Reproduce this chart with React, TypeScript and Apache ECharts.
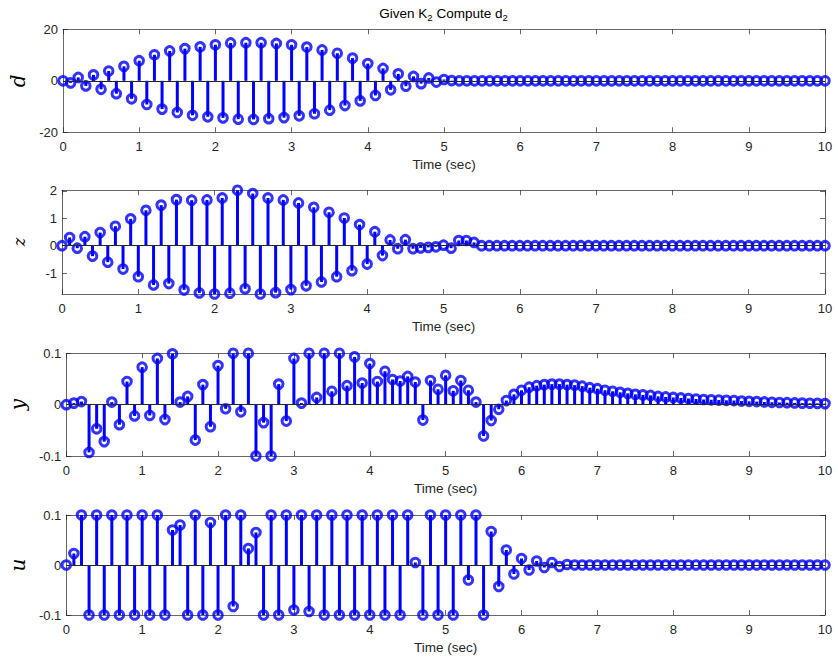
import React, { useEffect, useRef } from 'react';
import * as echarts from 'echarts';

// Time axis: 0 .. 10 s, sampled every 0.1 s
const time: number[] = Array.from({ length: 101 }, (_, i) => i / 10);

const dValues = [
  0, -0.8, 1.3, -2.0, 2.3, -3.3, 3.8, -5.0, 5.6, -7.0,
  7.8, -9.2, 10.1, -11.0, 11.6, -12.3, 12.5, -13.4, 13.2, -14.0,
  14.0, -14.4, 14.7, -14.9, 14.8, -15.0, 14.8, -14.7, 14.5, -14.3,
  14.0, -13.6, 13.1, -12.8, 12.0, -11.4, 10.7, -9.6, 8.8, -7.8,
  6.7, -5.7, 4.8, -3.5, 2.7, -2.1, 1.7, -1.1, 1.1, -0.5,
  0.5, 0.1, 0, 0, 0, 0, 0, 0, 0, 0,
  0, 0, 0, 0, 0, 0, 0, 0, 0, 0,
  0, 0, 0, 0, 0, 0, 0, 0, 0, 0,
  0, 0, 0, 0, 0, 0, 0, 0, 0, 0,
  0, 0, 0, 0, 0, 0, 0, 0, 0, 0,
  0,
];

const zValues = [
  0, 0.30, -0.09, 0.33, -0.38, 0.48, -0.60, 0.71, -0.85, 0.98,
  -1.13, 1.29, -1.43, 1.48, -1.38, 1.68, -1.61, 1.66, -1.72, 1.67,
  -1.76, 1.74, -1.73, 2.02, -1.57, 1.90, -1.76, 1.74, -1.71, 1.67,
  -1.60, 1.56, -1.46, 1.40, -1.32, 1.22, -1.13, 1.01, -0.91, 0.77,
  -0.67, 0.51, -0.36, 0.21, -0.11, 0.22, -0.11, -0.08, -0.06, -0.04,
  0.02, -0.09, 0.19, 0.19, 0.12, 0, 0, 0, 0, 0,
  0, 0, 0, 0, 0, 0, 0, 0, 0, 0,
  0, 0, 0, 0, 0, 0, 0, 0, 0, 0,
  0, 0, 0, 0, 0, 0, 0, 0, 0, 0,
  0, 0, 0, 0, 0, 0, 0, 0, 0, 0,
  0,
];

const yValues = [
  0, 0.003, 0.006, -0.093, -0.047, -0.072, 0.005, -0.039, 0.045, -0.022,
  0.073, -0.021, 0.090, -0.029, 0.099, 0.005, 0.016, -0.069, 0.039, -0.043,
  0.076, -0.008, 0.100, -0.014, 0.100, -0.100, -0.035, -0.100, 0.040, -0.032,
  0.090, 0.003, 0.100, 0.014, 0.100, 0.026, 0.100, 0.037, 0.093, 0.042,
  0.080, 0.045, 0.065, 0.049, 0.046, 0.055, 0.044, -0.030, 0.047, 0.030,
  0.057, 0.027, 0.047, 0.028, 0.005, -0.061, -0.031, -0.009, 0.008, 0.020,
  0.028, 0.034, 0.037, 0.039, 0.040, 0.040, 0.039, 0.038, 0.036, 0.033,
  0.031, 0.028, 0.026, 0.024, 0.022, 0.020, 0.019, 0.018, 0.016, 0.015,
  0.014, 0.013, 0.012, 0.011, 0.010, 0.0095, 0.009, 0.0085, 0.008, 0.007,
  0.0065, 0.006, 0.0052, 0.0046, 0.0042, 0.0038, 0.0034, 0.003, 0.0027, 0.0025,
  0.002,
];

const uValues = [
  0, 0.023, 0.1, -0.1, 0.1, -0.1, 0.1, -0.1, 0.1, -0.1,
  0.1, -0.1, 0.1, -0.1, 0.070, 0.080, -0.1, 0.1, -0.1, 0.085,
  -0.1, 0.1, -0.083, 0.1, 0.033, 0.065, -0.1, 0.1, -0.1, 0.1,
  -0.090, 0.1, -0.093, 0.1, -0.1, 0.1, -0.1, 0.1, -0.1, 0.1,
  -0.1, 0.1, -0.1, 0.1, -0.1, 0.1, 0.005, -0.1, 0.1, -0.1,
  0.1, -0.1, 0.1, -0.030, 0.1, -0.1, 0.067, -0.043, 0.030, -0.018,
  0.013, -0.010, 0.008, -0.005, 0.005, -0.003, 0.001, 0, 0, 0,
  0, 0, 0, 0, 0, 0, 0, 0, 0, 0,
  0, 0, 0, 0, 0, 0, 0, 0, 0, 0,
  0, 0, 0, 0, 0, 0, 0, 0, 0, 0,
  0,
];

const dTicks = [-20, 0, 20];
const zTicks = [-1, 0, 1, 2];
const yTicks = [-0.1, 0, 0.1];
const uTicks = [-0.1, 0, 0.1];

const panels = [
  { label: 'd', values: dValues, ticks: dTicks, min: -20, max: 20, top: 29.3, height: 103, labelSize: 20 },
  { label: 'z', values: zValues, ticks: zTicks, min: Math.min(...zValues), max: Math.max(...zValues), top: 190.3, height: 103.7, labelSize: 16 },
  { label: 'y', values: yValues, ticks: yTicks, min: -0.1, max: 0.1, top: 353.3, height: 102.7, labelSize: 20 },
  { label: 'u', values: uValues, ticks: uTicks, min: -0.1, max: 0.1, top: 515, height: 100, labelSize: 20 },
];

const BLUE = '#0000ff';
const AXIS = '#262626';
const SANS = '"Liberation Sans", Helvetica, Arial, sans-serif';
const SERIF = '"DejaVu Serif", "Liberation Serif", serif';

export default function App() {
  const ref = useRef<HTMLDivElement>(null);

  useEffect(() => {
    if (!ref.current) return;
    const chart = echarts.init(ref.current, undefined, { renderer: 'svg' });

    const grid: any[] = [];
    const xAxis: any[] = [];
    const yAxis: any[] = [];
    const series: any[] = [];

    panels.forEach((p, i) => {
      grid.push({ left: 62, right: 13, top: p.top, height: p.height, containLabel: false });
      xAxis.push({
        type: 'value', gridIndex: i, min: 0, max: 10, interval: 1, position: 'bottom',
        axisLine: { show: true, onZero: false, lineStyle: { color: AXIS, width: 0.7 } },
        axisTick: { show: true, inside: true, length: 5, lineStyle: { color: AXIS, width: 0.7 } },
        axisLabel: { show: true, color: AXIS, fontFamily: SANS, fontSize: 13, margin: 8 },
        splitLine: { show: false },
        name: 'Time (sec)', nameLocation: 'middle', nameGap: 25,
        nameTextStyle: { color: AXIS, fontFamily: SANS, fontSize: 13.5 },
      });
      xAxis.push({
        type: 'value', gridIndex: i, min: 0, max: 10, interval: 1, position: 'top',
        axisLine: { show: true, onZero: false, lineStyle: { color: AXIS, width: 0.7 } },
        axisTick: { show: true, inside: true, length: 5, lineStyle: { color: AXIS, width: 0.7 } },
        axisLabel: { show: false }, splitLine: { show: false },
      });
      yAxis.push({
        type: 'value', gridIndex: i, min: p.min, max: p.max, position: 'left',
        axisLine: { show: true, onZero: false, lineStyle: { color: AXIS, width: 0.7 } },
        axisTick: { show: true, inside: true, length: 5, customValues: p.ticks, lineStyle: { color: AXIS, width: 0.7 } },
        axisLabel: { show: true, customValues: p.ticks, color: AXIS, fontFamily: SANS, fontSize: 13, margin: 5 },
        splitLine: { show: false },
        name: p.label, nameLocation: 'middle', nameRotate: 90, nameGap: 35,
        nameTextStyle: { color: '#000', fontFamily: SERIF, fontStyle: 'italic', fontSize: p.labelSize },
      });
      yAxis.push({
        type: 'value', gridIndex: i, min: p.min, max: p.max, position: 'right',
        axisLine: { show: true, onZero: false, lineStyle: { color: AXIS, width: 0.7 } },
        axisTick: { show: true, inside: true, length: 5, customValues: p.ticks, lineStyle: { color: AXIS, width: 0.7 } },
        axisLabel: { show: false, customValues: p.ticks }, splitLine: { show: false },
      });

      const data = time.map((t, k) => [t, p.values[k]]);
      series.push({
        type: 'custom', xAxisIndex: i * 2, yAxisIndex: i * 2, data, z: 2,
        renderItem: (_params: any, api: any) => {
          const x = api.value(0);
          const v = api.value(1);
          const a = api.coord([x, 0]);
          const b = api.coord([x, v]);
          return {
            type: 'line',
            shape: { x1: a[0], y1: a[1], x2: b[0], y2: b[1] },
            style: { stroke: BLUE, lineWidth: 3 },
          };
        },
        markLine: {
          silent: true, symbol: 'none', animation: false,
          label: { show: false },
          lineStyle: { color: AXIS, width: 1, type: 'solid' },
          data: [{ yAxis: 0 }],
        },
      });
      series.push({
        type: 'scatter', xAxisIndex: i * 2, yAxisIndex: i * 2, data, z: 3,
        symbol: 'circle', symbolSize: 8.6,
        itemStyle: { color: 'rgba(0,0,0,0)', borderColor: BLUE, borderWidth: 3 },
        emphasis: { disabled: true },
      });
    });

    chart.setOption({
      animation: false,
      backgroundColor: '#ffffff',
      grid,
      xAxis,
      yAxis,
      series,
      graphic: [
        {
          type: 'text', x: 443.5, y: 14, silent: true,
          style: {
            text: '{a|Given K}{s|2}{a| Compute d}{s|2}',
            align: 'center', verticalAlign: 'middle',
            rich: {
              a: { fontFamily: SANS, fontSize: 13.5, color: '#000', lineHeight: 16, verticalAlign: 'top' },
              s: { fontFamily: SANS, fontSize: 9.5, color: '#000', lineHeight: 10, padding: [9.5, 0, 0, 0], verticalAlign: 'bottom' },
            },
          },
        },
      ],
    });

    return () => chart.dispose();
  }, []);

  return (
    <div
      ref={ref}
      style={{ position: 'fixed', left: 0, top: 0, width: 838, height: 661, background: '#fff' }}
    />
  );
}
